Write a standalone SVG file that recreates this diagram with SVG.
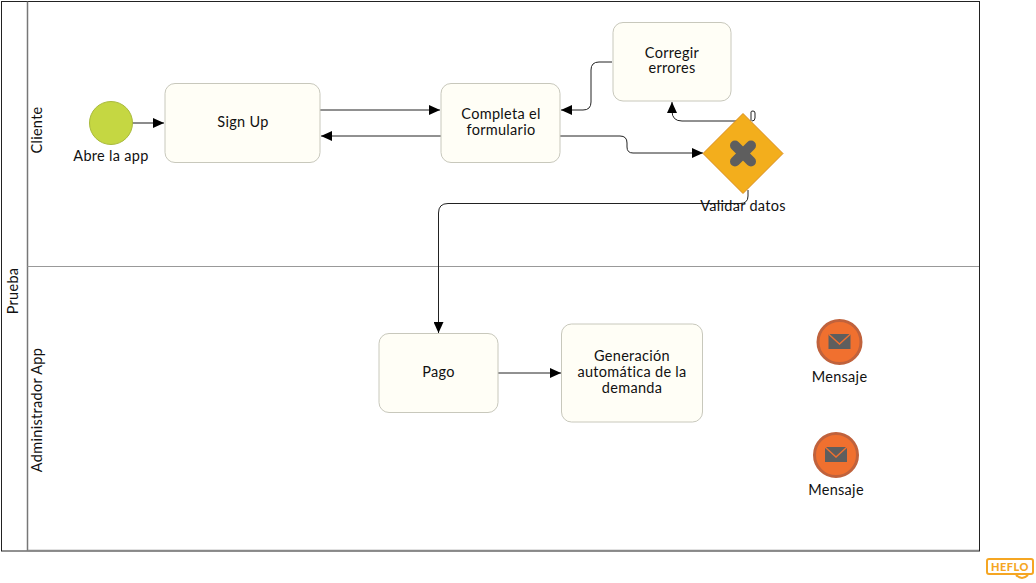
<svg xmlns="http://www.w3.org/2000/svg" width="1036" height="583" viewBox="0 0 1036 583">
<style>
text{font-family:"Lato","Noto Sans","Liberation Sans",sans-serif;font-size:14.5px;letter-spacing:.3px;fill:#111;text-anchor:middle}
.task{fill:#fffef6;stroke:#c8c8bc;stroke-width:1}
.c{fill:none;stroke:#222;stroke-width:1}
.msg{fill:#f0702f;stroke:#c0623c;stroke-width:3}
.env{fill:#5e5e5e}
.envl{fill:none;stroke:#f0702f;stroke-width:1.4}
</style>
<defs>
<marker id="a" markerWidth="12" markerHeight="10" refX="11" refY="5" orient="auto" markerUnits="userSpaceOnUse"><path d="M0 0L11 5L0 10Z" fill="#000"/></marker>
</defs>
<g id="pool">
<rect x="1.500" y="1.500" width="978" height="549.500" fill="#fff" stroke="#222"/>
<path d="M27.500 1.500V551" fill="none" stroke="#777" stroke-width="1.500"/>
<path d="M27.500 266.500H979" stroke="#999" fill="none"/>
<path d="M27.500 550.500H979" stroke="#888" fill="none" stroke-width="1.500"/>
<text transform="translate(18 291) rotate(-90)">Prueba</text>
<text transform="translate(42 130) rotate(-90)">Cliente</text>
<text transform="translate(42 410) rotate(-90)">Administrador App</text>
</g>
<g id="connectors">
<path class="c" d="M132 123H164" style="stroke:#666;stroke-width:1.500" marker-end="url(#a)"/>
<path class="c" d="M320 110H440" marker-end="url(#a)"/>
<path class="c" d="M441 136H321" marker-end="url(#a)"/>
<path class="c" d="M612 62H599Q591 62 591 70V102Q591 110 583 110H561" marker-end="url(#a)"/>
<path class="c" d="M560 136H620Q627 136 627 143V147Q627 153 633 153H703" marker-end="url(#a)"/>
<path class="c" d="M737 121H682Q672 121 672 111V102" marker-end="url(#a)"/>
<path class="c" d="M751 121V112Q751 111 753 111Q755 111 755 113V118Q755 121 752 121"/>
<path class="c" d="M748 190V196Q748 203.500 740 203.500H448Q438.500 203.500 438.500 213V333" marker-end="url(#a)"/>
<path class="c" d="M498 373H561" marker-end="url(#a)"/>
</g>
<g id="start"><circle cx="111" cy="123" r="21.500" fill="#c5d742" stroke="#a9ba3c"/><text x="111" y="161">Abre la app</text></g>
<g id="signup"><rect class="task" x="165" y="83.500" width="155" height="79" rx="10"/><text x="243" y="127">Sign Up</text></g>
<g id="completa"><rect class="task" x="441" y="83.500" width="119" height="79" rx="10"/><text x="501" y="119">Completa el</text><text x="501" y="135">formulario</text></g>
<g id="corregir"><rect class="task" x="613" y="22.500" width="118" height="78.500" rx="10"/><text x="672" y="58">Corregir</text><text x="672" y="73">errores</text></g>
<g id="gateway"><path d="M743 113.500L783 153.500L743 193.500L703 153.500Z" fill="#f3ae1c" stroke="#d98c1c"/><path d="M735 145.500L751 161.500M751 145.500L735 161.500" stroke="#5e5e5e" stroke-width="10" stroke-linecap="round" fill="none"/><text x="743" y="211">Validar datos</text></g>
<g id="pago"><rect class="task" x="379" y="333.500" width="119" height="79" rx="10"/><text x="438.500" y="377">Pago</text></g>
<g id="generacion"><rect class="task" x="561.500" y="324" width="141" height="98" rx="10"/><text x="632" y="361">Generación</text><text x="632" y="377">automática de la</text><text x="632" y="393">demanda</text></g>
<g id="msg1"><circle class="msg" cx="839.500" cy="342" r="21.500"/><rect class="env" x="828.500" y="334" width="22" height="15"/><path class="envl" d="M828.500 334L839.500 344L850.500 334"/><text x="839.500" y="382">Mensaje</text></g>
<g id="msg2"><circle class="msg" cx="836" cy="455" r="21.500"/><rect class="env" x="825" y="447" width="22" height="15"/><path class="envl" d="M825 447L836 457L847 447"/><text x="836" y="495">Mensaje</text></g>
<g id="heflo"><rect x="987" y="559" width="46" height="15" rx="2" fill="#fff" stroke="#f5a623" stroke-width="2"/><path d="M1016 575Q1022 581 1028 575" fill="none" stroke="#f5a623" stroke-width="2"/><text x="1010" y="570.500" style="font-size:11px;font-weight:900;fill:#f5a623;letter-spacing:.5px">HEFLO</text></g>
</svg>
